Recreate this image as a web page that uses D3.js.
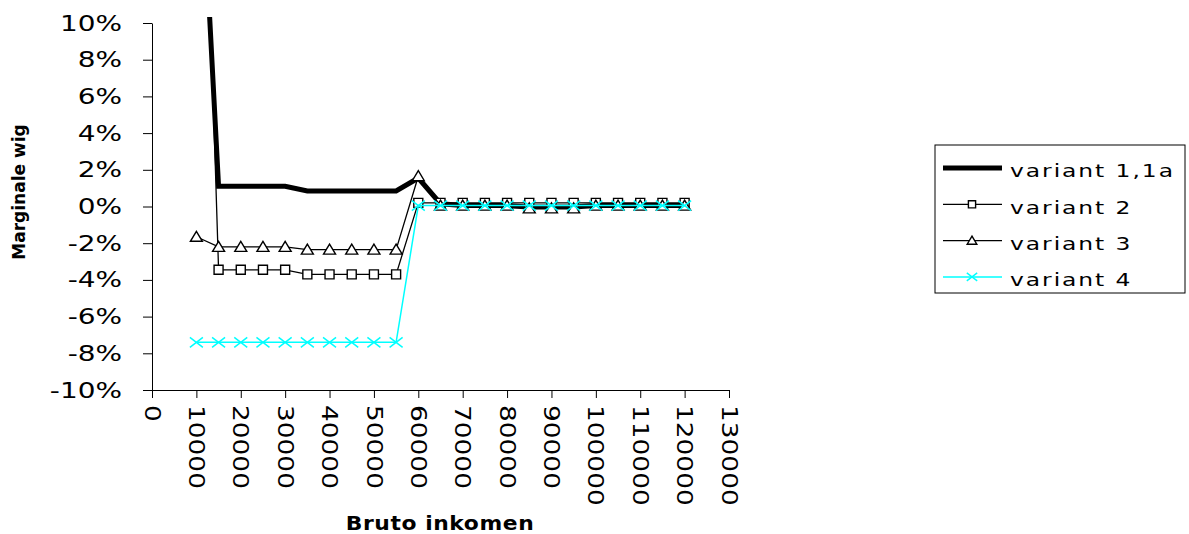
<!DOCTYPE html>
<html><head><meta charset="utf-8">
<script src="https://cdn.jsdelivr.net/npm/d3@7"></script>
<style>body{margin:0;background:#fff} svg{display:block}</style>
</head><body><svg id="c" width="1189" height="534"></svg>
<script>
// ---- data ----
const incomes = [10000,15000,20000,25000,30000,35000,40000,45000,50000,55000,60000,65000,70000,75000,80000,85000,90000,95000,100000,105000,110000,115000,120000];
const variant1 = [0.24,0.011,0.011,0.011,0.011,0.0085,0.0085,0.0085,0.0085,0.0085,0.0155,0.0015,0.0005,0.0005,0.0005,-0.0003,-0.0003,-0.0003,0.0005,0.0005,0.0005,0.0005,0.0005];
const variant2 = [0.35,-0.0345,-0.0345,-0.0345,-0.0345,-0.037,-0.037,-0.037,-0.037,-0.037,0.002,0.002,0.002,0.002,0.002,0.002,0.002,0.002,0.002,0.002,0.002,0.002,0.002];
const variant3 = [-0.0165,-0.022,-0.022,-0.022,-0.022,-0.0235,-0.0235,-0.0235,-0.0235,-0.0235,0.0165,0.0005,0.0005,0.0005,0.0005,-0.001,-0.001,-0.001,0.0005,0.0005,0.0005,0.0005,0.0005];
const variant4 = [-0.074,-0.074,-0.074,-0.074,-0.074,-0.074,-0.074,-0.074,-0.074,-0.074,0.0005,0.0005,0.0005,0.0005,0.0005,0.0005,0.0005,0.0005,0.0005,0.0005,0.0005,0.0005,0.0005];
const seriesNames = ["variant 1,1a","variant 2","variant 3","variant 4"];
const yTicks = [-0.10,-0.08,-0.06,-0.04,-0.02,0,0.02,0.04,0.06,0.08,0.10];
const xTicks = [0,10000,20000,30000,40000,50000,60000,70000,80000,90000,100000,110000,120000,130000];
const xTitle = "Bruto inkomen";
const yTitle = "Marginale wig";

// ---- setup ----
const svg = d3.select("#c");
const x = d3.scaleLinear().domain([0,130000]).range([152,729]);
const y = d3.scaleLinear().domain([-0.10,0.10]).range([390,23]);
const FONT = "DejaVu Sans";
const SX = 1.27;

const series = [
  {name: seriesNames[0], values: variant1, color: "#000", width: 5, marker: "none"},
  {name: seriesNames[1], values: variant2, color: "#000", width: 1.3, marker: "square"},
  {name: seriesNames[2], values: variant3, color: "#000", width: 1.3, marker: "triangle"},
  {name: seriesNames[3], values: variant4, color: "#00FFFF", width: 1.5, marker: "cross"}
];

function markerPath(type, s) {
  const p = d3.path();
  if (type === "square") { p.rect(-4.5*s, -4.5*s, 9*s, 9*s); }
  else if (type === "triangle") { p.moveTo(0, -5.5*s); p.lineTo(6*s, 4.5*s); p.lineTo(-6*s, 4.5*s); p.closePath(); }
  else if (type === "cross") { p.moveTo(-6.5*s,-5*s); p.lineTo(6.5*s,5*s); p.moveTo(-6.5*s,5*s); p.lineTo(6.5*s,-5*s); }
  return p.toString();
}

// axes
const yAxis = svg.append("g").attr("transform","translate(152,0)")
  .call(d3.axisLeft(y).tickValues(yTicks).tickSize(9).tickSizeOuter(0).tickPadding(21)
    .tickFormat(d => Math.round(d*100) + "%"));
yAxis.selectAll("text").attr("font-family", FONT).attr("font-size", 22).attr("fill","#000")
  .attr("x", -30/SX).attr("transform", `scale(${SX},1)`);
yAxis.selectAll("line,path").attr("stroke","#000").attr("stroke-width",1);

const xAxis = svg.append("g").attr("transform","translate(0,390)")
  .call(d3.axisBottom(x).tickValues(xTicks).tickSize(8).tickSizeOuter(0).tickFormat(d => String(d)));
xAxis.selectAll("text").attr("font-family", FONT).attr("font-size", 22).attr("fill","#000")
  .attr("x",0).attr("y",0).attr("dy","0.36em").attr("text-anchor","start")
  .attr("transform", `translate(0,15) rotate(90) scale(1.2,1)`);
xAxis.selectAll("line,path").attr("stroke","#000").attr("stroke-width",1);

// clip
svg.append("clipPath").attr("id","plotclip").append("rect")
  .attr("x",152).attr("y",17).attr("width",600).attr("height",380);

const plot = svg.append("g").attr("clip-path","url(#plotclip)");
const line = d3.line().x((d,i) => x(incomes[i])).y(d => y(d));

series.forEach(s => {
  const g = plot.append("g");
  g.append("path").datum(s.values).attr("d", line).attr("fill","none")
    .attr("stroke", s.color).attr("stroke-width", s.width).attr("stroke-linejoin","miter");
  if (s.marker !== "none") {
    g.selectAll("path.m").data(s.values).join("path").attr("class","m")
      .attr("transform",(d,i) => `translate(${x(incomes[i])},${y(d)})`)
      .attr("d", markerPath(s.marker, 1))
      .attr("fill", s.marker === "cross" ? "none" : "#fff")
      .attr("stroke", s.color).attr("stroke-width", s.marker === "cross" ? 1.5 : 1.4);
  }
});

// legend
const lg = svg.append("g");
lg.append("rect").attr("x",935).attr("y",145).attr("width",250).attr("height",148)
  .attr("fill","#fff").attr("stroke","#000").attr("stroke-width",1);
series.forEach((s,i) => {
  const ly = 168 + i*36.3;
  lg.append("line").attr("x1",943).attr("x2",1002).attr("y1",ly).attr("y2",ly)
    .attr("stroke",s.color).attr("stroke-width",s.width);
  if (s.marker !== "none") {
    lg.append("path").attr("transform",`translate(972,${ly})`).attr("d", markerPath(s.marker, 0.8))
      .attr("fill", s.marker === "cross" ? "none" : "#fff")
      .attr("stroke", s.color).attr("stroke-width", 1.4);
  }
  lg.append("text").attr("transform",`translate(1010,${ly+3}) scale(1.3,1)`)
    .attr("dy","0.36em").attr("font-family",FONT).attr("font-size",18).attr("letter-spacing","1.5px")
    .attr("fill","#000").text(s.name);
});

// titles
svg.append("text").attr("transform",`translate(440,530) scale(1.15,1)`).attr("text-anchor","middle")
  .attr("font-family",FONT).attr("font-weight","bold").attr("font-size",19).attr("letter-spacing","0.5px").text(xTitle);
svg.append("text").attr("transform",`translate(25,192) rotate(-90)`).attr("text-anchor","middle")
  .attr("font-family",FONT).attr("font-weight","bold").attr("font-size",17).text(yTitle);
</script></body></html>
